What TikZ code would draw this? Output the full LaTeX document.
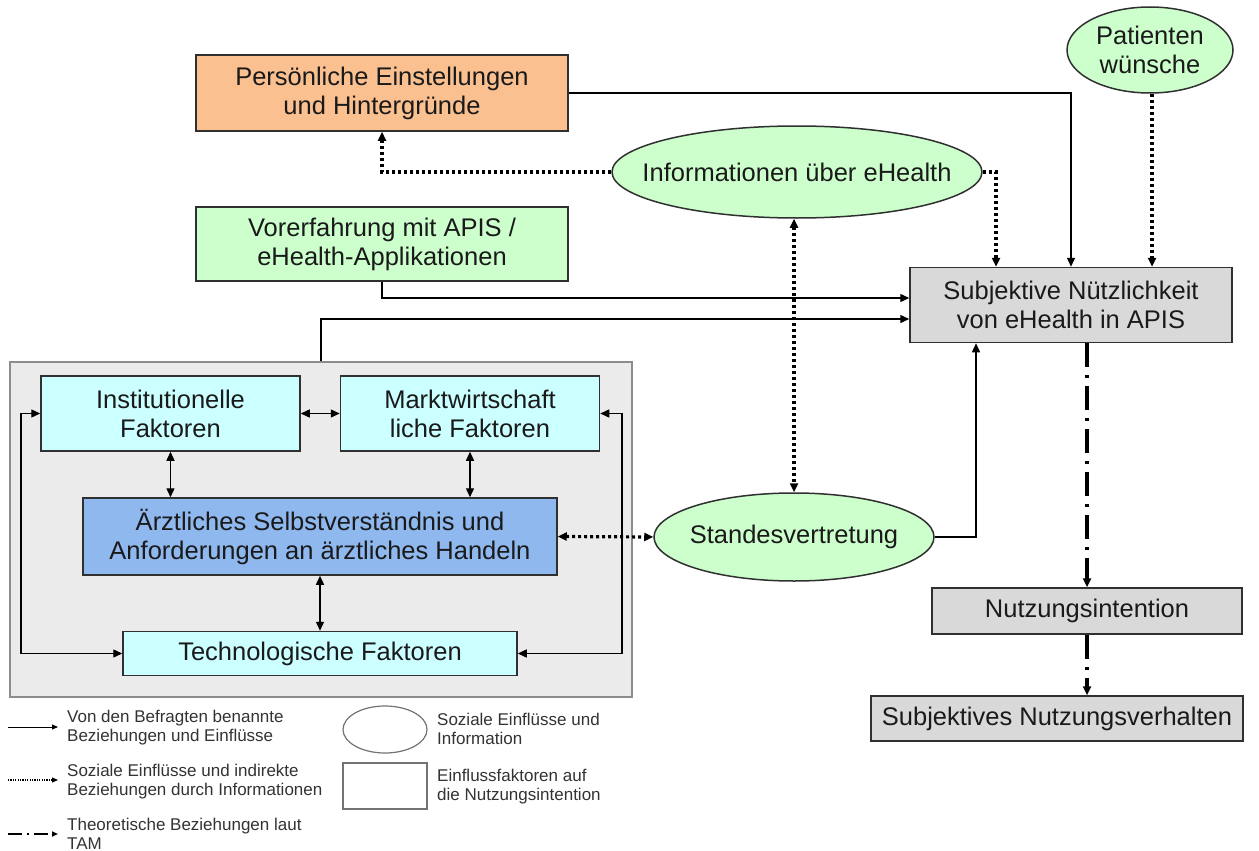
\documentclass[tikz,border=0pt]{standalone}
\usepackage{fontspec}
\setmainfont{Liberation Sans}
\usetikzlibrary{arrows.meta,shapes.geometric,calc}
\definecolor{orangebox}{HTML}{FAC090}
\definecolor{greenbox}{HTML}{CCFFCC}
\definecolor{cyanbox}{HTML}{CCFFFF}
\definecolor{bluebox}{HTML}{8EB8EE}
\definecolor{graybox}{HTML}{D9D9D9}
\definecolor{panelgray}{HTML}{EBEBEB}
\definecolor{edge}{HTML}{303030}
\definecolor{txt}{HTML}{1A1A1A}
\tikzset{
  mainfont/.style={font=\fontsize{25.5}{29}\selectfont, text=txt},
  box/.style={draw=edge, line width=1.5pt, rectangle, inner sep=0pt, align=center, mainfont},
  oval/.style={draw=edge, line width=1.5pt, ellipse, inner xsep=-90pt, inner ysep=-40pt, align=center, mainfont, fill=greenbox},
  tip/.style={-{Triangle[length=9pt,width=8pt]}},
  btip/.style={{Triangle[length=9pt,width=8pt]}-{Triangle[length=9pt,width=8pt]}},
  conn/.style={draw=black, line width=1.4pt},
  dotconn/.style={draw=black, line width=3.2pt, dash pattern=on 3pt off 3pt},
  tamconn/.style={draw=black, line width=3.2pt, dash pattern=on 24pt off 8pt on 3pt off 8pt},
  legtext/.style={font=\fontsize{17}{19}\selectfont, text=black!80, align=left, anchor=west, inner sep=0pt},
}
\begin{document}
\begin{tikzpicture}[x=1pt,y=-1pt]
\fill[white] (0,0) rectangle (1259,851);
\useasboundingbox (0,0) rectangle (1259,851);

% panel
\node[draw=black!45, line width=1.2pt, fill=panelgray, rectangle, minimum width=622pt, minimum height=335pt, inner sep=0pt] (panel) at (321,529.5) {};

% nodes
\node[box, fill=orangebox, minimum width=372pt, minimum height=76pt] (pers) at (382,93) {Persönliche Einstellungen\\und Hintergründe};
\node[box, fill=greenbox, minimum width=372pt, minimum height=74pt] (vor) at (382,244) {Vorerfahrung mit APIS /\\eHealth-Applikationen};
\node[oval, minimum width=370pt, minimum height=92pt] (info) at (797,172) {Informationen über eHealth};
\node[oval, minimum width=166pt, minimum height=86pt] (pat) at (1150,50) {Patienten\\wünsche};
\node[box, fill=graybox, minimum width=322pt, minimum height=75pt] (subj) at (1071,305) {Subjektive Nützlichkeit\\von eHealth in APIS};
\node[box, fill=cyanbox, minimum width=259pt, minimum height=75pt] (inst) at (170.5,413.5) {Institutionelle\\Faktoren};
\node[box, fill=cyanbox, minimum width=259pt, minimum height=75pt] (markt) at (470,413.5) {Marktwirtschaft\\liche Faktoren};
\node[box, fill=bluebox, minimum width=474pt, minimum height=77pt] (aerzt) at (320,536.5) {Ärztliches Selbstverständnis und\\Anforderungen an ärztliches Handeln};
\node[box, fill=cyanbox, minimum width=394pt, minimum height=44pt] (tech) at (320,653.5) {Technologische Faktoren};
\node[oval, minimum width=280pt, minimum height=88pt] (stand) at (794,537) {Standesvertretung};
\node[box, fill=graybox, minimum width=310pt, minimum height=46pt] (nutz) at (1087,611) {Nutzungsintention};
\node[box, fill=graybox, minimum width=372pt, minimum height=45pt] (verh) at (1057,718.5) {Subjektives Nutzungsverhalten};

\coordinate (L) at (21,0);
\coordinate (R) at (622,0);
\coordinate (P) at (1152,0);

% solid connectors
\draw[conn, tip] (pers.east) -| (subj.north);
\draw[conn, tip] (vor.south) |- ([yshift=7pt]subj.west);
\draw[conn, tip] (panel.north) |- ([yshift=-14pt]subj.west);
\draw[conn, tip] (stand.east) -| ([xshift=-95pt]subj.south);
\draw[conn, btip] (inst.east) -- (markt.west);
\draw[conn, btip] (inst.south) -- (inst.south |- aerzt.north);
\draw[conn, btip] (markt.south) -- (markt.south |- aerzt.north);
\draw[conn, btip] (aerzt.south) -- (tech.north);
\draw[conn, btip] (inst.west) -- (inst.west -| L) |- (tech.west);
\draw[conn, btip] (markt.east) -- (markt.east -| R) |- (tech.east);

% dotted connectors
\draw[dotconn, tip] (pat.south -| P) -- (P |- subj.north);
\draw[dotconn, tip] (info.east) -| ([xshift=-75pt]subj.north);
\draw[dotconn, tip] (info.west) -| (pers.south);
\draw[dotconn, btip] (info.south -| stand.north) -- (stand.north);
\draw[dotconn, btip] (aerzt.east) -- (stand.west);

% TAM connectors
\draw[tamconn, tip] ([xshift=16pt]subj.south) -- (nutz.north);
\draw[tamconn, tip] (nutz.south) -- (nutz.south |- verh.north);

% legend
\coordinate (la1) at (8,727); \coordinate (lb1) at (58,727);
\coordinate (la2) at (8,780); \coordinate (lb2) at (58,780);
\coordinate (la3) at (8,834); \coordinate (lb3) at (58,834);
\draw[line width=1pt, -{Triangle[length=6pt,width=5pt]}] (la1) -- (lb1);
\draw[line width=1.2pt, dash pattern=on 1.2pt off 1.2pt, -{Triangle[length=6pt,width=5pt]}] (la2) -- (lb2);
\draw[line width=2pt, dash pattern=on 14pt off 5pt on 2pt off 5pt, -{Triangle[length=6pt,width=5pt]}] (la3) -- (lb3);
\node[legtext] (lt1) at (67,727.5) {Von den Befragten benannte\\Beziehungen und Einflüsse};
\node[legtext] (lt2) at (67,781.5) {Soziale Einflüsse und indirekte\\Beziehungen durch Informationen};
\node[legtext] (lt3) at (67,834) {Theoretische Beziehungen laut\\TAM};
\node[draw=black!55, line width=1.2pt, ellipse, fill=white, minimum width=84pt, minimum height=47pt, inner sep=0pt] (le) at (385,729.5) {};
\node[draw=black!55, line width=1.2pt, rectangle, fill=white, minimum width=84pt, minimum height=46pt, inner sep=0pt] (lr) at (385,786) {};
\node[legtext] (lt4) at (437,729) {Soziale Einflüsse und\\Information};
\node[legtext] (lt5) at (437,787) {Einflussfaktoren auf\\die Nutzungsintention};
\end{tikzpicture}
\end{document}
